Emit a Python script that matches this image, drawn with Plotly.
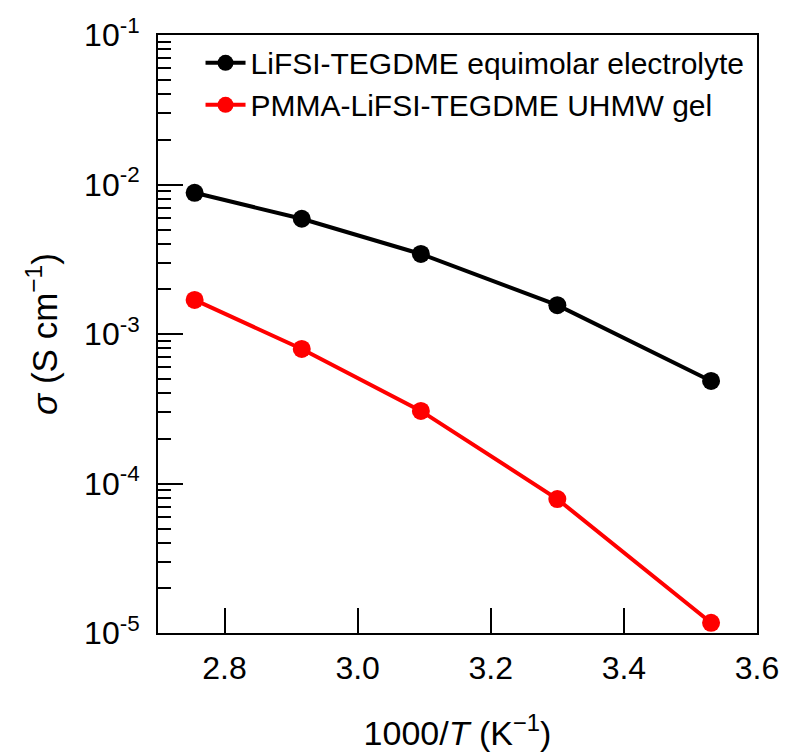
import plotly.graph_objects as go

inv_T = [2.755, 2.916, 3.095, 3.300, 3.531]
sigma_liquid = [8.8e-3, 5.9e-3, 3.43e-3, 1.56e-3, 4.85e-4]
sigma_gel = [1.69e-3, 7.94e-4, 3.06e-4, 7.87e-5, 1.17e-5]
names = ["LiFSI-TEGDME equimolar electrolyte", "PMMA-LiFSI-TEGDME UHMW gel"]
colors = ["black", "#ff0000"]
y_tickvals = [1e-5, 1e-4, 1e-3, 1e-2, 1e-1]
y_ticktext = ["10<sup>-5</sup>", "10<sup>-4</sup>", "10<sup>-3</sup>", "10<sup>-2</sup>", "10<sup>-1</sup>"]
x_tickvals = [2.8, 3.0, 3.2, 3.4, 3.6]
x_ticktext = ["2.8", "3.0", "3.2", "3.4", "3.6"]
y_minor = [m * d for d in y_tickvals[:-1] for m in range(2, 10)]

fig = go.Figure()
for ys, nm, c in zip([sigma_liquid, sigma_gel], names, colors):
    fig.add_trace(go.Scatter(x=inv_T, y=ys, name=nm, mode="lines+markers",
                             line=dict(color=c, width=4),
                             marker=dict(color=c, size=18)))

font = "Arial, Liberation Sans, sans-serif"
fig.update_layout(
    width=785, height=753,
    margin=dict(l=158, r=28, t=35, b=120),
    plot_bgcolor="white", paper_bgcolor="white",
    font=dict(family=font, color="black", size=30),
    showlegend=True,
    legend=dict(x=0.071, y=0.997, xanchor="left", yanchor="top",
                font=dict(size=30), bgcolor="rgba(0,0,0,0)",
                itemwidth=40, tracegroupgap=0),
)
fig.update_xaxes(range=[2.7, 3.6], tickmode="array", tickvals=x_tickvals, ticktext=x_ticktext,
                 ticks="inside", ticklen=25, tickwidth=2, tickcolor="black",
                 showline=True, linecolor="black", linewidth=2, mirror=True, automargin=False,
                 showgrid=False, zeroline=False, tickfont=dict(size=32), ticklabelstandoff=6,
                 title=dict(text="1000/<i>T</i> (K<sup>−1</sup>)", font=dict(size=34), standoff=36))
fig.update_yaxes(type="log", range=[-5, -1], tickmode="array", tickvals=y_tickvals, ticktext=y_ticktext,
                 ticks="inside", ticklen=25, tickwidth=2, tickcolor="black",
                 minor=dict(tickmode="array", tickvals=y_minor, ticks="inside", ticklen=13,
                            tickwidth=2, tickcolor="black", showgrid=False),
                 showline=True, linecolor="black", linewidth=2, mirror=True, automargin=False,
                 showgrid=False, zeroline=False, tickfont=dict(size=32), ticklabelstandoff=10,
                 title=dict(text="<i>σ</i> (S cm<sup>−1</sup>)", font=dict(size=35), standoff=16))
fig.write_html("out.html", config={"displayModeBar": False},
               post_script="document.body.style.margin='0';")
